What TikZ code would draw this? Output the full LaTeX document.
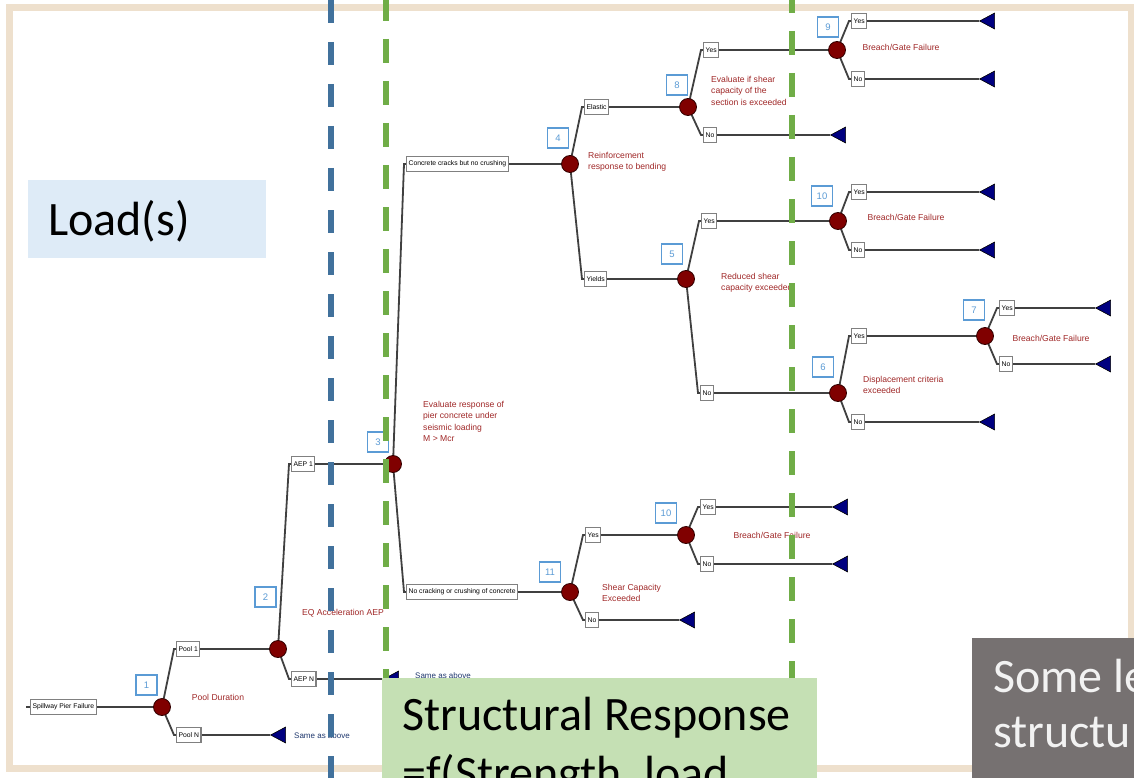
\documentclass[tikz,border=0pt]{standalone}
\usepackage{fontspec}
\setmainfont{Carlito}
\newfontfamily\arialf{Liberation Sans}
\usetikzlibrary{shapes.geometric}
\definecolor{numblue}{RGB}{91,155,213}
\definecolor{chred}{RGB}{128,0,0}
\definecolor{termblue}{RGB}{0,0,128}
\definecolor{notered}{RGB}{160,40,40}
\definecolor{sameblue}{RGB}{31,56,110}
\definecolor{linegray}{RGB}{64,64,64}
\definecolor{boxgray}{RGB}{128,128,128}
\definecolor{framec}{RGB}{238,224,205}
\definecolor{dblue}{RGB}{65,113,156}
\definecolor{dgreen}{RGB}{112,173,71}
\definecolor{loadbg}{RGB}{222,235,247}
\definecolor{greenbg}{RGB}{197,224,180}
\definecolor{graybg}{RGB}{118,113,113}
\definecolor{graytxt}{RGB}{242,242,242}
\pgfdeclarelayer{conn}
\pgfsetlayers{conn,main}
\tikzset{
  conn/.style={draw=linegray, line width=1.8pt},
  lbl/.style={draw=boxgray, line width=1.2pt, fill=white, text=black,
    font=\arialf\fontsize{6.8}{7}\selectfont, inner xsep=2pt, inner ysep=0pt,
    minimum height=15pt, anchor=west},
  numbox/.style={draw=numblue, line width=1.4pt, fill=white, text=numblue,
    font=\arialf\fontsize{9.5}{10}\selectfont, minimum width=21pt,
    minimum height=20pt, inner sep=0pt},
  chance/.style={circle, fill=chred, draw={rgb,255:red,50;green,0;blue,0},
    line width=0.8pt, minimum size=17pt, inner sep=0pt},
  term/.style={isosceles triangle, isosceles triangle apex angle=56,
    shape border rotate=180, fill=termblue, draw=black, line width=0.6pt,
    minimum size=15pt, inner sep=0pt, anchor=apex},
  rednote/.style={text=notered, font=\arialf\fontsize{8.6}{11.4}\selectfont,
    align=left, inner sep=0pt},
  sametxt/.style={text=sameblue, font=\arialf\fontsize{8}{9}\selectfont,
    inner sep=0pt, anchor=west},
  dashblue/.style={draw=dblue, line width=6pt, dash pattern=on 23pt off 19pt},
  dashgreen/.style={draw=dgreen, line width=6pt, dash pattern=on 24pt off 18pt},
  bigtxt/.style={font=\fontsize{48}{57}\selectfont, inner sep=0pt, anchor=base west}
}
\newcommand\branchto[2]{\draw[conn] (#1.center) -- ([xshift=-2pt]#2.west) -- (#2.west);}
\begin{document}
\begin{tikzpicture}[x=1pt,y=-1pt]
\useasboundingbox (0,0) rectangle (1134,778);
\clip (0,0) rectangle (1134,778);

% ---------- tree nodes ----------
\coordinate (s0) at (26,707);
\node[lbl] (spill) at (30,707) {Spillway Pier Failure};
\node[chance] (c1) at (162,707) {};
\node[numbox] (n1) at (146.5,685) {1};
\node[rednote] (t1) at (218,697) {Pool Duration};
\node[lbl] (pool1) at (176,649) {Pool 1};
\node[lbl] (pooln) at (176,735) {Pool N};
\node[term] (tpn) at (270,735) {};
\node[sametxt] (sa1) at (294,736) {Same as above};

\node[chance] (c2) at (278,649) {};
\node[numbox] (n2) at (265.5,597) {2};
\node[rednote] (t2) at (343,613) {EQ Acceleration AEP};
\node[lbl] (aep1) at (291,464) {AEP 1};
\node[lbl] (aepn) at (291,679) {AEP N};
\node[term] (taepn) at (383,679) {};
\node[sametxt] (sa2) at (415,676) {Same as above};

\node[chance] (c3) at (393,464) {};
\node[numbox] (n3) at (378,442) {3};
\node[rednote, anchor=north west] (t3) at (423,401) {Evaluate response of\\pier concrete under\\seismic loading\\M > Mcr};
\node[lbl] (crack) at (406,164) {Concrete cracks but no crushing};
\node[lbl] (nocrack) at (406,592) {No cracking or crushing of concrete};

\node[chance] (c4) at (570,164) {};
\node[numbox] (n4) at (558,138) {4};
\node[rednote, anchor=north west] (t4) at (588,152) {Reinforcement\\response to bending};
\node[lbl] (elastic) at (584,107) {Elastic};
\node[lbl] (yields) at (584,279) {Yields};

\node[chance] (c8) at (688,107) {};
\node[numbox] (n8) at (677,85) {8};
\node[rednote, anchor=north west] (t8) at (711,76) {Evaluate if shear\\capacity of the\\section is exceeded};
\node[lbl] (y8) at (703,50) {Yes};
\node[lbl] (no8) at (703,135) {No};
\node[term] (tno8) at (830,135) {};

\node[chance] (c9) at (837,50) {};
\node[numbox] (n9) at (828,27) {9};
\node[rednote] (t9) at (901,47) {Breach/Gate Failure};
\node[lbl] (y9) at (851,21) {Yes};
\node[lbl] (no9) at (851,79) {No};
\node[term] (ty9) at (979,21) {};
\node[term] (tno9) at (979,79) {};

\node[chance] (c5) at (686,279) {};
\node[numbox] (n5) at (672,254) {5};
\node[rednote, anchor=north west] (t5) at (721,273) {Reduced shear\\capacity exceeded};
\node[lbl] (y5) at (701,221) {Yes};
\node[lbl] (no5) at (700,393) {No};

\node[chance] (c10a) at (838,221) {};
\node[numbox] (n10a) at (822,196) {10};
\node[rednote] (t10a) at (906,217) {Breach/Gate Failure};
\node[lbl] (y10a) at (851,192) {Yes};
\node[lbl] (no10a) at (851,250) {No};
\node[term] (ty10a) at (979,192) {};
\node[term] (tno10a) at (979,250) {};

\node[chance] (c6) at (838,393) {};
\node[numbox] (n6) at (823,367) {6};
\node[rednote, anchor=north west] (t6) at (863,376) {Displacement criteria\\exceeded};
\node[lbl] (y6) at (851,336) {Yes};
\node[lbl] (no6) at (851,422) {No};
\node[term] (tno6) at (979,422) {};

\node[chance] (c7) at (985,336) {};
\node[numbox] (n7) at (974,310) {7};
\node[rednote] (t7) at (1051,338) {Breach/Gate Failure};
\node[lbl] (y7) at (999,308) {Yes};
\node[lbl] (no7) at (999,364) {No};
\node[term] (ty7) at (1095,308) {};
\node[term] (tno7) at (1095,364) {};

\node[chance] (c11) at (570,592) {};
\node[numbox] (n11) at (550,572) {11};
\node[rednote, anchor=north west] (t11) at (602,584) {Shear Capacity\\Exceeded};
\node[lbl] (y11) at (585,535) {Yes};
\node[lbl] (no11) at (585,620) {No};
\node[term] (tno11) at (679,620) {};

\node[chance] (c10b) at (686,535) {};
\node[numbox] (n10b) at (666,513) {10};
\node[rednote] (t10b) at (772,535) {Breach/Gate Failure};
\node[lbl] (y10b) at (700,507) {Yes};
\node[lbl] (no10b) at (700,564) {No};
\node[term] (ty10b) at (832,507) {};
\node[term] (tno10b) at (832,564) {};

% ---------- frame and connectors (behind) ----------
\begin{pgfonlayer}{conn}
\fill[white] (0,0) rectangle (1134,778);
\draw[framec, line width=7pt] (9,8) rectangle (1131,768);
\draw[conn] (s0) -- (spill.west);
\draw[conn] (spill.east) -- (c1.center);
\branchto{c1}{pool1} \branchto{c1}{pooln}
\draw[conn] (pool1.east) -- (c2.center);
\draw[conn] (pooln.east) -- (tpn.apex);
\branchto{c2}{aep1} \branchto{c2}{aepn}
\draw[conn] (aep1.east) -- (c3.center);
\draw[conn] (aepn.east) -- (taepn.apex);
\branchto{c3}{crack} \branchto{c3}{nocrack}
\draw[conn] (crack.east) -- (c4.center);
\draw[conn] (nocrack.east) -- (c11.center);
\branchto{c4}{elastic} \branchto{c4}{yields}
\draw[conn] (elastic.east) -- (c8.center);
\draw[conn] (yields.east) -- (c5.center);
\branchto{c8}{y8} \branchto{c8}{no8}
\draw[conn] (y8.east) -- (c9.center);
\draw[conn] (no8.east) -- (tno8.apex);
\branchto{c9}{y9} \branchto{c9}{no9}
\draw[conn] (y9.east) -- (ty9.apex);
\draw[conn] (no9.east) -- (tno9.apex);
\branchto{c5}{y5} \branchto{c5}{no5}
\draw[conn] (y5.east) -- (c10a.center);
\draw[conn] (no5.east) -- (c6.center);
\branchto{c10a}{y10a} \branchto{c10a}{no10a}
\draw[conn] (y10a.east) -- (ty10a.apex);
\draw[conn] (no10a.east) -- (tno10a.apex);
\branchto{c6}{y6} \branchto{c6}{no6}
\draw[conn] (y6.east) -- (c7.center);
\draw[conn] (no6.east) -- (tno6.apex);
\branchto{c7}{y7} \branchto{c7}{no7}
\draw[conn] (y7.east) -- (ty7.apex);
\draw[conn] (no7.east) -- (tno7.apex);
\branchto{c11}{y11} \branchto{c11}{no11}
\draw[conn] (y11.east) -- (c10b.center);
\draw[conn] (no11.east) -- (tno11.apex);
\branchto{c10b}{y10b} \branchto{c10b}{no10b}
\draw[conn] (y10b.east) -- (ty10b.apex);
\draw[conn] (no10b.east) -- (tno10b.apex);
\end{pgfonlayer}

% ---------- dashed separators ----------
\draw[dashblue] (331,0) -- (331,778);
\draw[dashgreen] (386,-3) -- (386,778);
\draw[dashgreen] (792,-11) -- (792,778);

% ---------- callout boxes ----------
\fill[loadbg] (28,180) rectangle (266,258);
\node[bigtxt] (load) at (48,235) {Load(s)};
\fill[greenbg] (382,678) rectangle (817,790);
\node[bigtxt] (sr1) at (402,730) {Structural Response};
\node[bigtxt] (sr2) at (402,789) {=f(Strength, load};
\fill[graybg] (972,638) rectangle (1140,790);
\node[bigtxt, text=graytxt] (g1) at (993,692) {Some le};
\node[bigtxt, text=graytxt] (g2) at (993,747) {structu};
\end{tikzpicture}
\end{document}
